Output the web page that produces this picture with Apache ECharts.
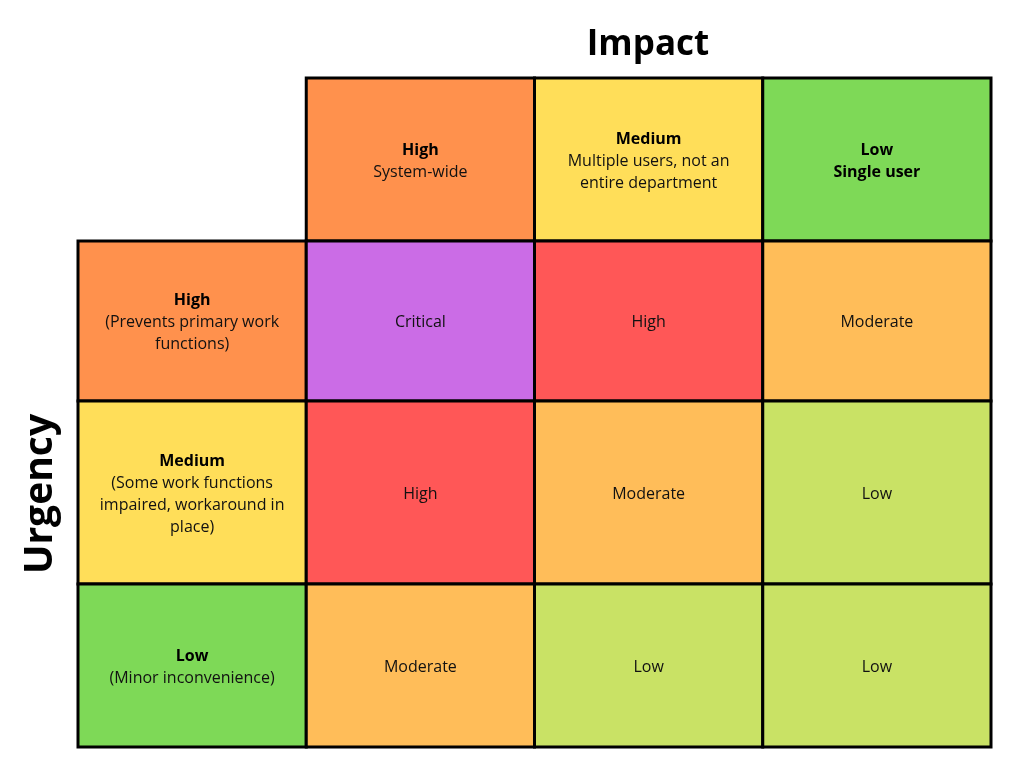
<!DOCTYPE html>
<html>
<head>
<meta charset="utf-8">
<script src="https://cdn.jsdelivr.net/npm/echarts@6/dist/echarts.min.js"></script>
<style>
  html, body { margin: 0; padding: 0; background: #fff; }
  #chart { width: 1024px; height: 768px; }
</style>
</head>
<body>
<div id="chart"></div>
<script>
// --- data ---
const impactLevels = ['High', 'Medium', 'Low'];
const impactNotes = ['System-wide', 'Multiple users, not an\nentire department', 'Single user'];
const impactNoteBold = [false, false, true];
const urgencyLevels = ['High', 'Medium', 'Low'];
const urgencyNotes = ['(Prevents primary work\nfunctions)', '(Some work functions\nimpaired, workaround in\nplace)', '(Minor inconvenience)'];
// rows = urgency (High..Low), cols = impact (High..Low)
const priorities = [
    ['Critical', 'High', 'Moderate'],
    ['High', 'Moderate', 'Low'],
    ['Moderate', 'Low', 'Low']
];

// colours
const levelColors = { High: '#FF914D', Medium: '#FFDE59', Low: '#7ED957' };
const priorityColors = { Critical: '#CB6CE6', High: '#FF5757', Moderate: '#FFBD59', Low: '#C9E265' };

// row heights (header row + 3 urgency rows), relative
const rowWeights = [163, 160, 183, 163];
const rowEdges = [0];
rowWeights.forEach((w, i) => rowEdges.push(rowEdges[i] + w));

const FONT = '"Open Sans", "Noto Sans", sans-serif';

// build cells
let cells = [];
impactLevels.forEach((lvl, i) => {
    cells.push({
        col: i + 1, row: 0, color: levelColors[lvl],
        text: '{b|' + lvl + '}\n' + impactNotes[i].split('\n').map(s => (impactNoteBold[i] ? '{b|' : '{n|') + s + '}').join('\n')
    });
});
urgencyLevels.forEach((lvl, i) => {
    cells.push({
        col: 0, row: i + 1, color: levelColors[lvl],
        text: '{b|' + lvl + '}\n' + urgencyNotes[i].split('\n').map(s => '{n|' + s + '}').join('\n')
    });
});
priorities.forEach((r, ri) => {
    r.forEach((p, ci) => {
        cells.push({ col: ci + 1, row: ri + 1, color: priorityColors[p], text: '{n|' + p + '}' });
    });
});

const chart = echarts.init(document.getElementById('chart'), null, { renderer: 'canvas' });

const option = {
    backgroundColor: '#fff',
    animation: false,
    title: [{
        text: 'Impact',
        left: 643, top: 23,
        textAlign: 'center',
        textStyle: { fontFamily: FONT, fontWeight: 'bold', fontSize: 35, color: '#000' }
    }],
    grid: { left: 78, right: 33, top: 78, bottom: 21 },
    xAxis: {
        type: 'category',
        data: ['Urgency'].concat(impactLevels),
        show: false
    },
    yAxis: {
        type: 'value',
        min: 0,
        max: rowEdges[rowEdges.length - 1],
        inverse: true,
        show: false
    },
    graphic: [{
        type: 'text',
        rotation: Math.PI / 2,
        x: 41, y: 494,
        style: {
            text: 'Urgency',
            fontFamily: FONT, fontWeight: 'bold', fontSize: 39, fill: '#000',
            align: 'center', verticalAlign: 'middle'
        }
    }],
    series: [{
        type: 'custom',
        data: cells.map(c => [c.col, c.row]),
        renderItem: function (params, api) {
            const cell = cells[params.dataIndex];
            const col = api.value(0), row = api.value(1);
            const cx = api.coord([col, 0])[0];
            const w = api.size([1, 0])[0];
            const y0 = api.coord([col, rowEdges[row]])[1];
            const y1 = api.coord([col, rowEdges[row + 1]])[1];
            return {
                type: 'group',
                children: [{
                    type: 'rect',
                    shape: { x: cx - w / 2, y: y0, width: w, height: y1 - y0 },
                    style: { fill: cell.color, stroke: '#000', lineWidth: 3 }
                }, {
                    type: 'text',
                    z2: 10,
                    style: {
                        text: cell.text,
                        x: cx, y: (y0 + y1) / 2 + 1.5,
                        align: 'center', verticalAlign: 'middle',
                        fill: '#111',
                        rich: {
                            b: { fontFamily: FONT, fontWeight: 'bold', fontSize: 16, lineHeight: 22, fill: '#000' },
                            n: { fontFamily: FONT, fontSize: 16, lineHeight: 22, fill: '#111' }
                        }
                    }
                }]
            };
        }
    }]
};

chart.setOption(option);
</script>
</body>
</html>
